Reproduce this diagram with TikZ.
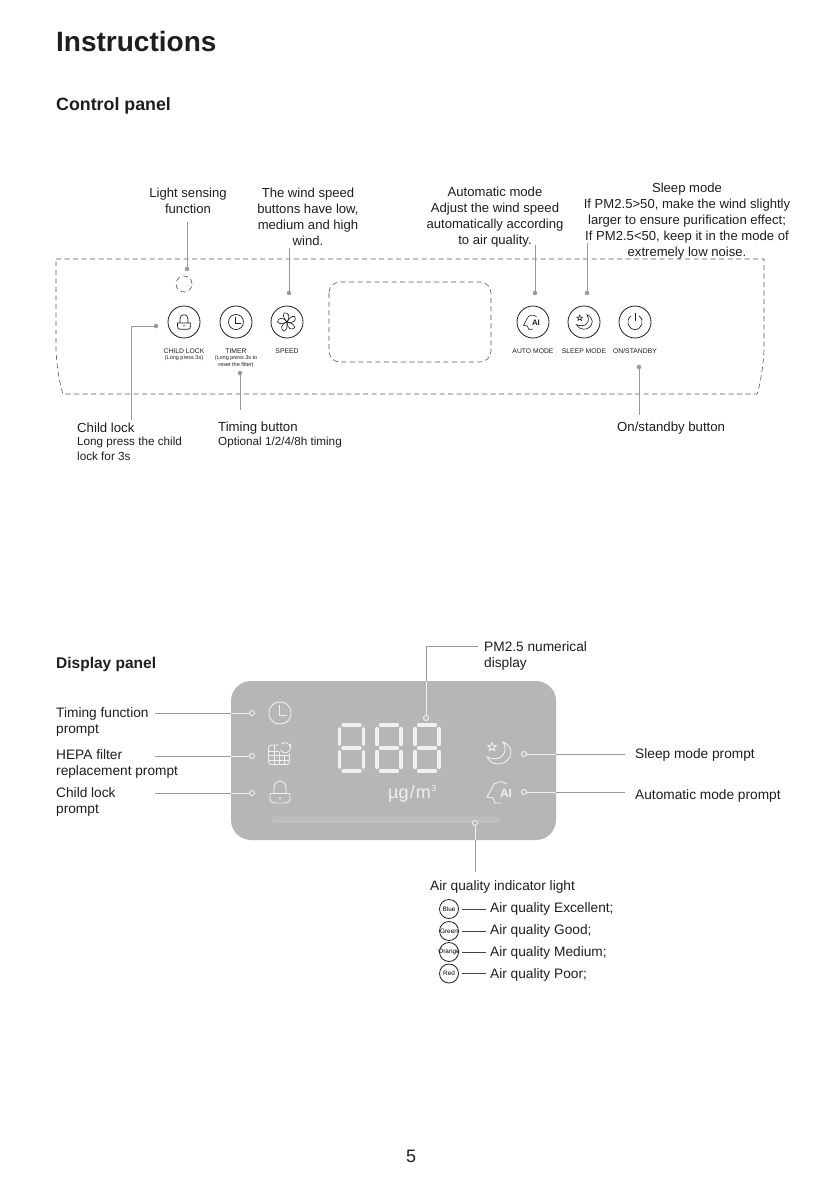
\documentclass[tikz,border=0pt]{standalone}
\usepackage{fontspec}
\usepackage{xcolor}
\setmainfont{Liberation Sans}
\definecolor{inkc}{HTML}{1E1E1E}
\definecolor{leadc}{HTML}{999999}
\definecolor{panelc}{HTML}{B6B6B6}
\definecolor{ledc}{HTML}{F0F0F0}
\usetikzlibrary{positioning,calc}

\begin{document}
\begin{tikzpicture}[
  x=1pt, y=-1pt,
  bodytext/.style={text=inkc, inner sep=0pt, align=center, font=\fontsize{13.1}{16}\selectfont},
  sidetext/.style={text=inkc, inner sep=0pt, align=left, anchor=west, font=\fontsize{13.7}{16}\selectfont},
  lowertext/.style={text=inkc, inner sep=0pt, align=left, anchor=west, font=\fontsize{13.2}{16}\selectfont},
  subtext/.style={text=inkc, inner sep=0pt, align=left, anchor=west, font=\fontsize{11.7}{15}\selectfont},
  heading/.style={text=inkc, inner sep=0pt, anchor=west, font=\bfseries\fontsize{17.8}{20}\selectfont},
  tinytext/.style={text=inkc, inner sep=0pt, align=center, font=\fontsize{6.8}{7}\selectfont},
  smalltext/.style={text=inkc, inner sep=0pt, align=center, font=\fontsize{5.5}{7}\selectfont},
  button/.style={circle, draw=inkc, line width=0.8pt, minimum size=32pt, inner sep=0pt},
  dotmark/.style={circle, fill=leadc, minimum size=4.5pt, inner sep=0pt},
  ringmark/.style={circle, draw=ledc, fill=panelc, line width=0.9pt, minimum size=5pt, inner sep=0pt},
  colourring/.style={circle, draw=inkc, line width=0.8pt, minimum size=19pt, inner sep=0pt, font=\fontsize{6.4}{7}\selectfont},
  leader/.style={draw=leadc, line width=0.9pt},
  leaderin/.style={draw=ledc, line width=1pt},
  rowline/.style={draw=inkc!85, line width=0.7pt, shorten <=3pt, shorten >=4pt},
  dashline/.style={draw=inkc!75, line width=0.6pt, dash pattern=on 5pt off 3.5pt},
  lockicon/.pic={
    \draw (-10,1.5) -- (10,1.5) -- (10,6) .. controls (10,10) and (8,11) .. (6,11) -- (-6,11)
      .. controls (-8,11) and (-10,10) .. (-10,6) -- cycle;
    \draw (-6,1.5) -- (-6,-5) .. controls (-6,-13) and (6,-13) .. (6,-5) -- (6,1.5);
    \fill (0,6) circle (1.1);
  },
  clockicon/.pic={
    \draw (-11,0) .. controls (-11,-14.7) and (11,-14.7) .. (11,0) .. controls (11,14.7) and (-11,14.7) .. (-11,0) -- cycle;
    \draw (-0.5,-8) -- (-0.5,2) -- (7,2);
  },
  fanicon/.pic={
    \foreach \ang in {0,72,...,288}
      \draw[rotate=\ang] (0,0) .. controls (-2,-3) and (-5,-5) .. (-3,-9) .. controls (1,-10) and (4,-6) .. (0,0);
  },
  filtericon/.pic={
    \draw[rounded corners=3] (-11.5,-8) rectangle (9.5,11.5);
    \foreach \gx in {-6,-1,4} \draw (\gx,-8) -- (\gx,11.5);
    \foreach \gy in {-2,2.5,7} \draw (-11.5,\gy) -- (9.5,\gy);
    \fill[panelc] (5,-5) circle (7);
    \draw (1,-9) .. controls (4,-12) and (10.5,-10) .. (10.5,-5) .. controls (10.5,0) and (3,1.5) .. (0.5,-3);
    \draw (10.5,-9.5) -- (10.5,-5);
  },
  moonicon/.pic={
    \draw (3,-11) .. controls (8,-9) and (11,-5) .. (11,-1) .. controls (11,6) and (5,11) .. (-2,11)
      .. controls (-7,11) and (-11,8) .. (-13,4) .. controls (-8,6) and (-4,6) .. (-1,5)
      .. controls (4,3) and (8,-4) .. (3,-11) -- cycle;
    \draw[shift={(-8,-6)}] (0,-4.5) -- (1.2,-1.5) -- (4.3,-1.3) -- (1.8,.6) -- (2.7,3.6) -- (0,1.8)
      -- (-2.7,3.6) -- (-1.8,.6) -- (-4.3,-1.3) -- (-1.2,-1.5) -- cycle;
  },
  aiicon/.pic={
    \draw (1,11) -- (-5,11) -- (-7,6) -- (-13,5) -- (-8,-4) .. controls (-7,-8) and (-4,-10) .. (-1.5,-10) .. controls (2,-10.5) and (5,-10) .. (7,-8);
    \node[transform shape, inner sep=0pt, font=\bfseries\fontsize{12}{12}\selectfont] (aimark) at (6,1.5) {AI};
  },
  powericon/.pic={
    \draw (0,-9) -- (0,-1);
    \draw (-4,-6) .. controls (-10,-2) and (-7,7.5) .. (0,7.5) .. controls (7,7.5) and (10,-2) .. (4,-6);
  },
  leddigit/.pic={
    \draw[line width=3.4pt, line cap=round, ledc] (5.5,2) -- (22.5,2) (5.5,25) -- (22.5,25) (5.5,48) -- (22.5,48)
      (2,5.5) -- (2,21.5) (2,28.5) -- (2,44.5) (26,5.5) -- (26,21.5) (26,28.5) -- (26,44.5);
  }
]
  \useasboundingbox (0,0) rectangle (824,1193);
  \fill[white] (0,0) rectangle (824,1193);

  % Headings
  \node[heading, font=\bfseries\fontsize{28}{30}\selectfont] (title) at (56,41) {Instructions};
  \node[heading] (controlhead) at (56,105.5) {Control panel};
  \node[heading, font=\bfseries\fontsize{15.5}{17}\selectfont] (displayhead) at (56,664.5) {Display panel};

  % Control panel outline
  \draw[dashline] (56,259) -- (764,259) -- (764,350) .. controls (763,370) and (760,385) .. (757,394)
    -- (63,394) .. controls (60,385) and (57,370) .. (56,350) -- cycle;
  \draw[dashline, rounded corners=11] (329,282) rectangle (491,362);
  \node[circle, dashline, minimum size=16pt, inner sep=0pt] (sensor) at (184,284) {};

  % Buttons
  \node[button] (lockbtn) at (184,322) {};
  \node[button] (timerbtn) at (236,322) {};
  \node[button] (speedbtn) at (287,322) {};
  \node[button] (autobtn) at (533,322) {};
  \node[button] (sleepbtn) at (584,322) {};
  \node[button] (powerbtn) at (635,322) {};
  \pic[inkc, line width=0.7pt, scale=.66] at (184,322) {lockicon};
  \pic[inkc, line width=0.7pt, scale=.68] at (236,322) {clockicon};
  \pic[inkc, line width=0.6pt] at (287,322) {fanicon};
  \pic[inkc, line width=0.6pt, scale=.66] at (532,322) {aiicon};
  \pic[inkc, line width=0.6pt, scale=.66] at (585,322) {moonicon};
  \pic[inkc, line width=0.7pt] at (635,322) {powericon};

  % Button captions
  \node[tinytext] (lockcap) at (184,351) {CHILD LOCK};
  \node[smalltext] (locksub) at (184,358) {(Long press 3s)};
  \node[tinytext] (timercap) at (236,351) {TIMER};
  \node[smalltext] (timersub) at (236,361.5) {(Long press 3s to\\reset the filter)};
  \node[tinytext] (speedcap) at (287,351) {SPEED};
  \node[tinytext] (autocap) at (533,351) {AUTO MODE};
  \node[tinytext] (sleepcap) at (584,351) {SLEEP MODE};
  \node[tinytext] (powercap) at (635,351) {ON/STANDBY};

  % Upper labels
  \node[bodytext] (lighttext) at (188,201) {Light sensing\\function};
  \node[bodytext] (windtext) at (308,217) {The wind speed\\buttons have low,\\medium and high\\wind.};
  \node[bodytext] (autotext) at (495,217) {Automatic mode\\Adjust the wind speed\\automatically according\\to air quality.};
  \node[bodytext] (sleeptext) at (687,221) {Sleep mode\\If PM2.5>50, make the wind slightly\\larger to ensure purification effect;\\If PM2.5<50, keep it in the mode of\\extremely low noise.};

  % Lower labels
  \node[lowertext] (locktext) at (77,428) {Child lock};
  \node[subtext] (locknote) at (77,449) {Long press the child\\lock for 3s};
  \node[lowertext] (timertext) at (218,428) {Timing button};
  \node[subtext] (timernote) at (218,442) {Optional 1/2/4/8h timing};
  \node[lowertext] (powertext) at (617,428) {On/standby button};

  % Control panel leaders
  \node[dotmark] (lightdot) at (187,269) {};
  \node[dotmark] (winddot) at (289,293) {};
  \node[dotmark] (autodot) at (535,293) {};
  \node[dotmark] (sleepdot) at (587,293) {};
  \node[dotmark] (lockdot) at (156,326) {};
  \node[dotmark] (timerdot) at (240,373) {};
  \node[dotmark] (powerdot) at (639,367) {};
  \coordinate (lightend) at (187,222);
  \coordinate (windend) at (289,248);
  \coordinate (autoend) at (535,245);
  \coordinate (sleepend) at (587,243);
  \coordinate (lockend) at (131,420);
  \coordinate (timerend) at (240,410);
  \coordinate (powerend) at (639,415);
  \draw[leader] (lightend) -- (lightdot);
  \draw[leader] (windend) -- (winddot);
  \draw[leader] (autoend) -- (autodot);
  \draw[leader] (sleepend) -- (sleepdot);
  \draw[leader] (lockdot) -| (lockend);
  \draw[leader] (timerend) -- (timerdot);
  \draw[leader] (powerend) -- (powerdot);

  % Display panel
  \node[draw=none, fill=panelc, rounded corners=20, minimum width=325pt, minimum height=159pt, inner sep=0pt] (screen) at (393.5,760.5) {};
  \shade[top color=panelc, bottom color=panelc!82!white, rounded corners=3] (272,813) rectangle (500,823);
  \pic[ledc, line width=0.9pt] at (280,713) {clockicon};
  \pic[ledc, line width=0.9pt] at (280,753) {filtericon};
  \pic[ledc, line width=0.9pt] at (280,792) {lockicon};
  \pic[ledc, line width=0.9pt] at (500,753) {moonicon};
  \pic[ledc, line width=0.9pt] at (500,792) {aiicon};
  \pic at (337.5,723) {leddigit};
  \pic at (375,723) {leddigit};
  \pic at (413,723) {leddigit};
  \node[inner sep=0pt, anchor=base west, text=ledc, font=\fontsize{18}{20}\selectfont] (unittext) at (388,798) {µg\kern1.2pt/\kern1.2pt m\kern.5pt\textsuperscript{\fontsize{9}{9}\selectfont 3}};

  % Display labels
  \node[sidetext] (timingtext) at (56,722) {Timing function\\prompt};
  \node[sidetext] (hepatext) at (56,764) {HEPA filter\\replacement prompt};
  \node[sidetext] (childtext) at (56,802) {Child lock\\prompt};
  \node[sidetext] (pmtext) at (484,656) {PM2.5 numerical\\display};
  \node[sidetext] (sleepprompt) at (635,755) {Sleep mode prompt};
  \node[sidetext] (autoprompt) at (635,796) {Automatic mode prompt};
  \node[sidetext] (airtext) at (430,887) {Air quality indicator light};

  % Display leaders
  \node[ringmark] (timingdot) at (252,713) {};
  \node[ringmark] (hepadot) at (252,756) {};
  \node[ringmark] (childdot) at (252,793) {};
  \node[ringmark] (pmdot) at (426,718) {};
  \node[ringmark] (sleepring) at (524,754) {};
  \node[ringmark] (autoring) at (524,792) {};
  \node[ringmark] (airdot) at (475,823) {};
  \coordinate (timingend) at (155,713);
  \coordinate (hepaend) at (155,756);
  \coordinate (childend) at (155,793);
  \coordinate (pmend) at (478,646);
  \coordinate (sleepout) at (625,754);
  \coordinate (autoout) at (625,792);
  \coordinate (airend) at (475,872);
  \draw[leader] (timingend) -- (screen.west |- timingend);
  \draw[leaderin] (screen.west |- timingend) -- (timingdot);
  \draw[leader] (hepaend) -- (screen.west |- hepaend);
  \draw[leaderin] (screen.west |- hepaend) -- (hepadot);
  \draw[leader] (childend) -- (screen.west |- childend);
  \draw[leaderin] (screen.west |- childend) -- (childdot);
  \draw[leader] (pmend) -| (pmdot |- screen.north);
  \draw[leaderin] (pmdot |- screen.north) -- (pmdot);
  \draw[leader] (sleepout) -- (screen.east |- sleepout);
  \draw[leaderin] (screen.east |- sleepout) -- (sleepring);
  \draw[leader] (autoout) -- (screen.east |- autoout);
  \draw[leaderin] (screen.east |- autoout) -- (autoring);
  \draw[leader] (airend) -- (airdot |- screen.south);
  \draw[leaderin] (airdot |- screen.south) -- (airdot);

  % Air quality rows
  \node[colourring] (bluering) at (449,909) {Blue};
  \node[colourring] (greenring) at (449,931) {\makebox[0pt]{Green}};
  \node[colourring] (orangering) at (449,952) {\makebox[0pt]{Orange}};
  \node[colourring] (redring) at (449,973.5) {Red};
  \node[sidetext] (bluetext) at (490,909) {Air quality Excellent;};
  \node[sidetext] (greentext) at (490,931) {Air quality Good;};
  \node[sidetext] (orangetext) at (490,953) {Air quality Medium;};
  \node[sidetext] (redtext) at (490,974.5) {Air quality Poor;};
  \draw[rowline] (bluering) -- (bluering -| bluetext.west);
  \draw[rowline] (greenring) -- (greenring -| greentext.west);
  \draw[rowline] (orangering) -- (orangering -| orangetext.west);
  \draw[rowline] (redring) -- (redring -| redtext.west);

  % Page number
  \node[text=inkc, inner sep=0pt, font=\fontsize{18}{20}\selectfont] (pagenum) at (411,1156) {5};
\end{tikzpicture}
\end{document}
